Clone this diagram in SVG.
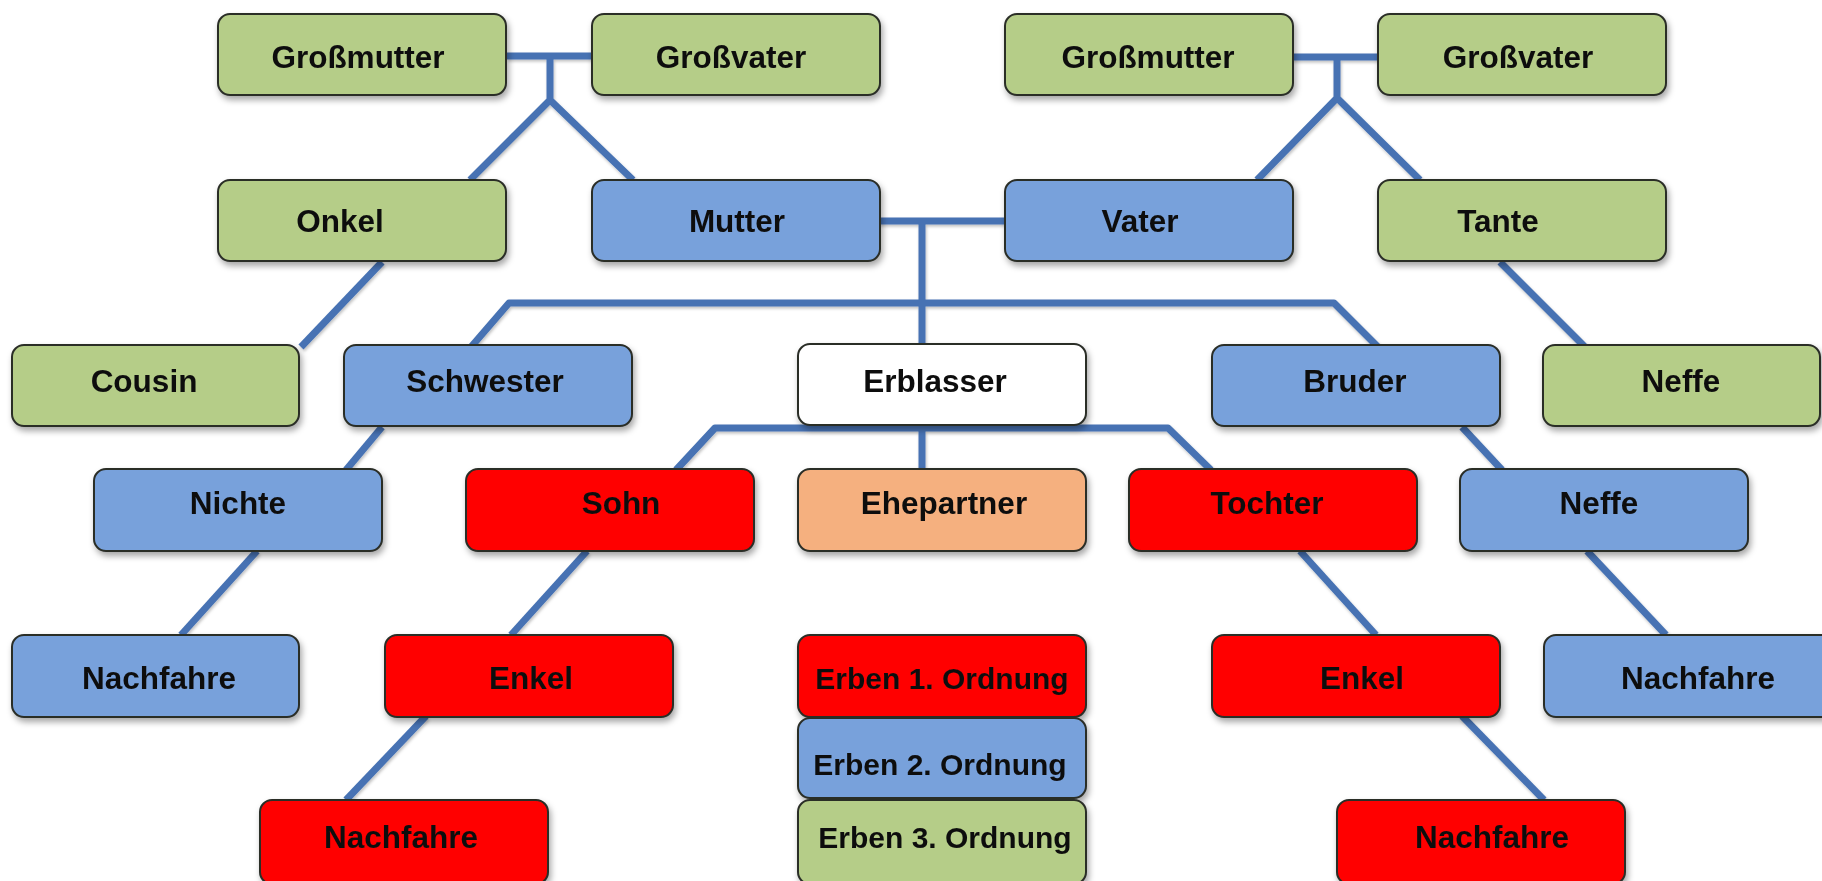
<svg xmlns="http://www.w3.org/2000/svg" width="1822" height="881" viewBox="0 0 1822 881">
<defs>
<filter id="sh" x="-10%" y="-20%" width="130%" height="150%">
<feDropShadow dx="2" dy="4" stdDeviation="3" flood-color="#000" flood-opacity="0.35"/>
</filter>
<filter id="lsh" x="-20%" y="-20%" width="140%" height="140%">
<feDropShadow dx="1" dy="2" stdDeviation="1.5" flood-color="#000" flood-opacity="0.25"/>
</filter>
</defs>
<style>
.box{stroke:#2a2d28;stroke-width:2}
.g{fill:#b5cd88}
.b{fill:#78a1db}
.r{fill:#ff0000}
.o{fill:#f5b07f}
.w{fill:#ffffff}
text{font-family:"Liberation Sans",Arial,sans-serif;font-weight:bold;font-size:31.5px;fill:#111;text-anchor:middle}
.sm{font-size:30px}
.con{fill:none;stroke:#4672b3;stroke-width:7;stroke-linejoin:round;stroke-linecap:butt}
</style>
<rect width="1822" height="881" fill="#ffffff"/>
<g id="connectors" class="con" filter="url(#lsh)">
<path d="M507,56 H592 M550,56 V100 M470,180 L550,100 L633,180"/>
<path d="M1292,57 H1378 M1337,57 V98 M1257,180 L1337,98 L1420,180"/>
<path d="M879,221 H1005 M922,221 V344"/>
<path d="M471,347 L509,303 H1334 L1378,347"/>
<path d="M382,262 L301,347"/>
<path d="M1500,262 L1585,347"/>
<path d="M382,427 L346,470"/>
<path d="M676,470 L715,428 H1168 L1211,470 M922,425 V469"/>
<path d="M1462,427 L1502,470"/>
<path d="M257,551 L181,635"/>
<path d="M587,551 L511,635"/>
<path d="M426,716 L346,800"/>
<path d="M1300,551 L1376,635"/>
<path d="M1462,716 L1544,800"/>
<path d="M1587,551 L1666,635"/>
</g>
<g filter="url(#sh)">
<g id="grossmutter-l"><rect class="box g" x="218" y="14" width="288" height="81" rx="12"/><text x="358" y="68">Großmutter</text></g>
<g id="grossvater-l"><rect class="box g" x="592" y="14" width="288" height="81" rx="12"/><text x="731" y="68">Großvater</text></g>
<g id="grossmutter-r"><rect class="box g" x="1005" y="14" width="288" height="81" rx="12"/><text x="1148" y="68">Großmutter</text></g>
<g id="grossvater-r"><rect class="box g" x="1378" y="14" width="288" height="81" rx="12"/><text x="1518" y="68">Großvater</text></g>

<g id="onkel"><rect class="box g" x="218" y="180" width="288" height="81" rx="12"/><text x="340" y="232">Onkel</text></g>
<g id="mutter"><rect class="box b" x="592" y="180" width="288" height="81" rx="12"/><text x="737" y="232">Mutter</text></g>
<g id="vater"><rect class="box b" x="1005" y="180" width="288" height="81" rx="12"/><text x="1140" y="232">Vater</text></g>
<g id="tante"><rect class="box g" x="1378" y="180" width="288" height="81" rx="12"/><text x="1498" y="232">Tante</text></g>

<g id="cousin"><rect class="box g" x="12" y="345" width="287" height="81" rx="12"/><text x="144" y="392">Cousin</text></g>
<g id="schwester"><rect class="box b" x="344" y="345" width="288" height="81" rx="12"/><text x="485" y="392">Schwester</text></g>
<g id="erblasser"><rect class="box w" x="798" y="344" width="288" height="81" rx="12"/><text x="935" y="392">Erblasser</text></g>
<g id="bruder"><rect class="box b" x="1212" y="345" width="288" height="81" rx="12"/><text x="1355" y="392">Bruder</text></g>
<g id="neffe-g"><rect class="box g" x="1543" y="345" width="277" height="81" rx="12"/><text x="1681" y="392">Neffe</text></g>

<g id="nichte"><rect class="box b" x="94" y="469" width="288" height="82" rx="12"/><text x="238" y="514">Nichte</text></g>
<g id="sohn"><rect class="box r" x="466" y="469" width="288" height="82" rx="12"/><text x="621" y="514">Sohn</text></g>
<g id="ehepartner"><rect class="box o" x="798" y="469" width="288" height="82" rx="12"/><text x="944" y="514">Ehepartner</text></g>
<g id="tochter"><rect class="box r" x="1129" y="469" width="288" height="82" rx="12"/><text x="1267" y="514">Tochter</text></g>
<g id="neffe-b"><rect class="box b" x="1460" y="469" width="288" height="82" rx="12"/><text x="1599" y="514">Neffe</text></g>

<g id="nachfahre-bl"><rect class="box b" x="12" y="635" width="287" height="82" rx="12"/><text x="159" y="689">Nachfahre</text></g>
<g id="enkel-l"><rect class="box r" x="385" y="635" width="288" height="82" rx="12"/><text x="531" y="689">Enkel</text></g>
<g id="erben1"><rect class="box r" x="798" y="635" width="288" height="82" rx="12"/><text class="sm" x="942" y="689">Erben 1. Ordnung</text></g>
<g id="enkel-r"><rect class="box r" x="1212" y="635" width="288" height="82" rx="12"/><text x="1362" y="689">Enkel</text></g>
<g id="nachfahre-br"><rect class="box b" x="1544" y="635" width="292" height="82" rx="12"/><text x="1698" y="689">Nachfahre</text></g>

<g id="erben2"><rect class="box b" x="798" y="718" width="288" height="80" rx="12"/><text class="sm" x="940" y="775">Erben 2. Ordnung</text></g>

<g id="nachfahre-rl"><rect class="box r" x="260" y="800" width="288" height="84" rx="12"/><text x="401" y="848">Nachfahre</text></g>
<g id="erben3"><rect class="box g" x="798" y="800" width="288" height="84" rx="12"/><text class="sm" x="945" y="848">Erben 3. Ordnung</text></g>
<g id="nachfahre-rr"><rect class="box r" x="1337" y="800" width="288" height="84" rx="12"/><text x="1492" y="848">Nachfahre</text></g>
</g>
</svg>
